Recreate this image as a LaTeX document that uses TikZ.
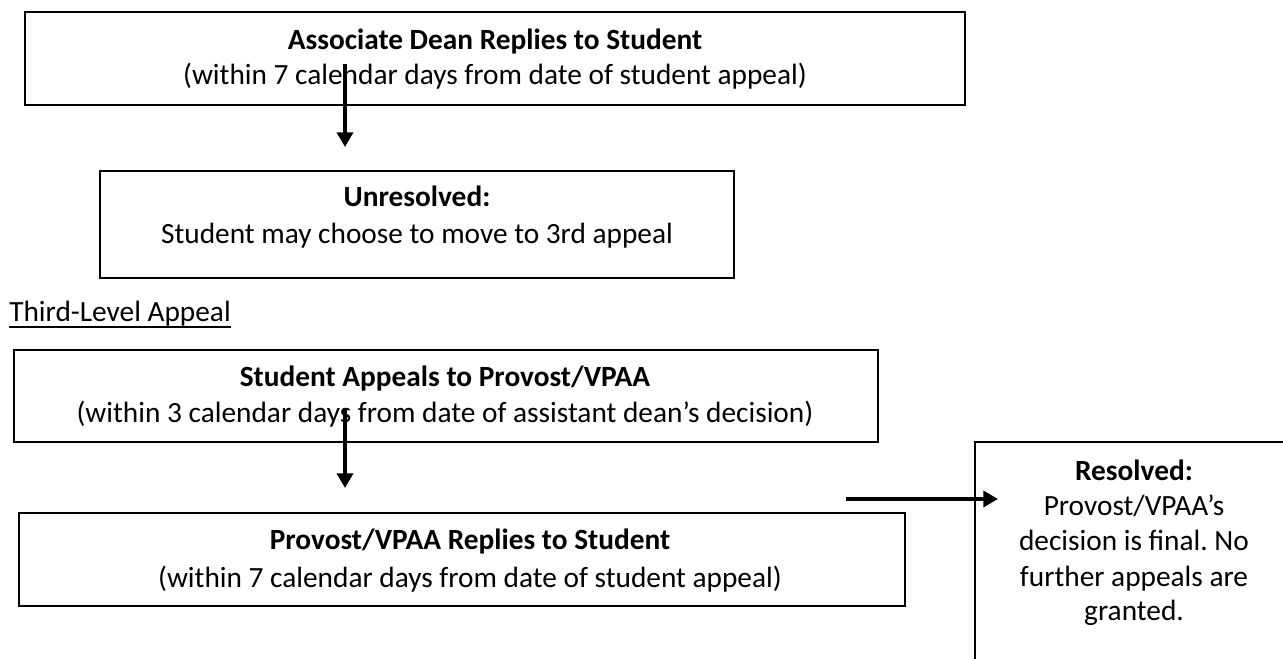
\documentclass[tikz,border=0pt]{standalone}
\usepackage{fontspec}
\setmainfont{Carlito}
\usetikzlibrary{arrows.meta}
\frenchspacing
\begin{document}
\begin{tikzpicture}[x=0.75pt,y=-0.75pt,
  box/.style={draw, line width=1.2pt, rectangle, inner sep=0pt},
  txt/.style={anchor=base, inner sep=0pt, font=\fontsize{22}{26}\selectfont},
  btxt/.style={anchor=base, inner sep=0pt, font=\fontsize{22}{26}\selectfont\bfseries},
  flow/.style={line width=3pt, -{Triangle[length=11pt,width=12pt]}}]
\useasboundingbox (0,0) rectangle (1283,659);
% boxes
\node[box, minimum width=705pt, minimum height=69.75pt] (b1) at (495,58.5) {};
\node[box, minimum width=475.5pt, minimum height=80.25pt] (b2) at (417,224.5) {};
\node[box, minimum width=648pt, minimum height=69pt] (b3) at (446,396) {};
\node[box, minimum width=664.5pt, minimum height=69.75pt] (b4) at (462,559.5) {};
\node[box, minimum width=238.5pt, minimum height=178.5pt] (b5) at (1134,561) {};
% texts
\node[btxt] (t1a) at (495,50) {Associate Dean Replies to Student};
\node[txt] (t1b) at (495,85) {(within 7 calendar days from date of student appeal)};
\node[btxt] (t2a) at (417,207) {Unresolved:};
\node[txt] (t2b) at (417,244) {Student may choose to move to 3rd appeal};
\node[txt, anchor=base west] (lbl) at (9,322) {Third-Level Appeal};
\draw[line width=1.1pt] ([yshift=-3.6pt]lbl.base west) -- ([yshift=-3.6pt]lbl.base east);
\node[btxt] (t3a) at (445,387) {Student Appeals to Provost/VPAA};
\node[txt] (t3b) at (445,423) {(within 3 calendar days from date of assistant dean’s decision)};
\node[btxt] (t4a) at (470,550) {Provost/VPAA Replies to Student};
\node[txt] (t4b) at (470,587) {(within 7 calendar days from date of student appeal)};
\node[btxt] (t5a) at (1134,481) {Resolved:};
\node[txt] (t5b) at (1134,516) {Provost/VPAA’s};
\node[txt] (t5c) at (1134,551) {decision is final. No};
\node[txt] (t5d) at (1134,586) {further appeals are};
\node[txt] (t5e) at (1134,620) {granted.};
% connectors
\coordinate (a1s) at (345,64);
\coordinate (a1e) at (345,147);
\coordinate (a2s) at (345,408);
\coordinate (a2e) at (345,488);
\coordinate (a3s) at (846,499);
\coordinate (a3e) at (998,499);
\draw[flow] (a1s) -- (a1e);
\draw[flow] (a2s) -- (a2e);
\draw[flow] (a3s) -- (a3e);
\end{tikzpicture}
\end{document}
